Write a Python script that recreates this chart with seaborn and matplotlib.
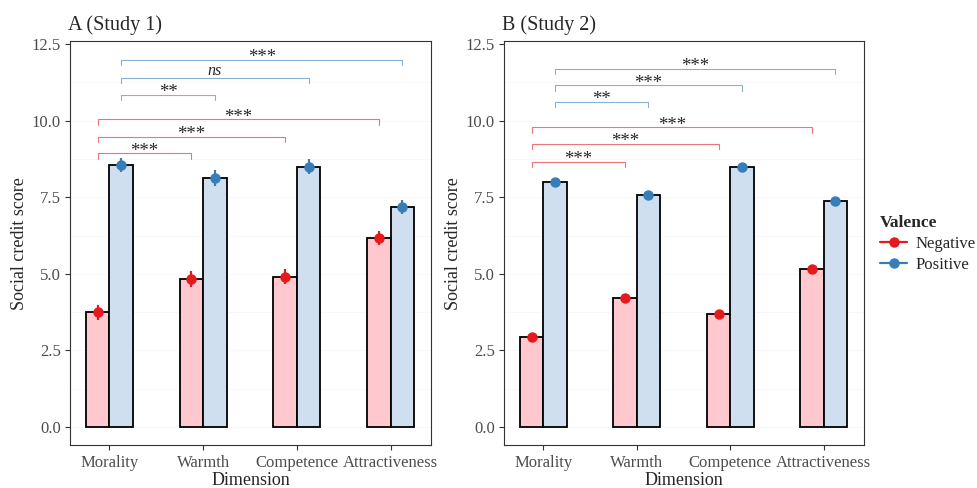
import matplotlib.pyplot as plt
import seaborn as sns
import pandas as pd
from matplotlib.lines import Line2D
from matplotlib.ticker import MultipleLocator

# Data
dimensions = ['Morality', 'Warmth', 'Competence', 'Attractiveness']
valences = ['Negative', 'Positive']
colors = {'Negative': '#E41A1C', 'Positive': '#377EB8'}
fills = {'Negative': '#FFC8CE', 'Positive': '#CFDFF0'}

# Study 1 means and standard errors
s1_negative = [3.74, 4.83, 4.91, 6.16]
s1_positive = [8.55, 8.12, 8.50, 7.19]
s1_negative_se = [0.24, 0.25, 0.25, 0.23]
s1_positive_se = [0.24, 0.26, 0.24, 0.22]

# Study 2 means and standard errors
s2_negative = [2.94, 4.22, 3.68, 5.16]
s2_positive = [8.00, 7.56, 8.48, 7.38]
s2_negative_se = [0.12, 0.12, 0.12, 0.12]
s2_positive_se = [0.11, 0.11, 0.11, 0.11]

# Comparisons: (valence, from, to, bracket height, label)
s1_brackets = [
    ('Negative', 'Morality', 'Warmth', 8.93, '***'),
    ('Negative', 'Morality', 'Competence', 9.47, '***'),
    ('Negative', 'Morality', 'Attractiveness', 10.04, '***'),
    ('Positive', 'Morality', 'Warmth', 10.83, '**'),
    ('Positive', 'Morality', 'Competence', 11.40, 'ns'),
    ('Positive', 'Morality', 'Attractiveness', 11.98, '***'),
]
s2_brackets = [
    ('Negative', 'Morality', 'Warmth', 8.66, '***'),
    ('Negative', 'Morality', 'Competence', 9.23, '***'),
    ('Negative', 'Morality', 'Attractiveness', 9.78, '***'),
    ('Positive', 'Morality', 'Warmth', 10.60, '**'),
    ('Positive', 'Morality', 'Competence', 11.15, '***'),
    ('Positive', 'Morality', 'Attractiveness', 11.69, '***'),
]


def make_df(neg, pos, neg_se, pos_se):
    return pd.DataFrame({
        'Dimension': dimensions * 2,
        'Valence': ['Negative'] * 4 + ['Positive'] * 4,
        'Score': neg + pos,
        'SE': neg_se + pos_se,
    })


sns.set_style('white')
plt.rcParams['font.family'] = ['Liberation Serif', 'DejaVu Serif']

fig = plt.figure(figsize=(9.77, 4.88), dpi=100)
ax1 = fig.add_axes([0.0717, 0.0871, 0.3694, 0.8289])
ax2 = fig.add_axes([0.5159, 0.0871, 0.3684, 0.8289])


def draw_panel(ax, df, brackets, title):
    ax.set_axisbelow(True)
    sns.barplot(data=df, x='Dimension', y='Score', hue='Valence',
                order=dimensions, hue_order=valences, palette=fills,
                width=0.5, errorbar=None, edgecolor='black', linewidth=1.3,
                saturation=1, legend=False, ax=ax)

    # bar centres taken from seaborn's dodged bars
    centres = {}
    for container, lvl in zip(ax.containers, valences):
        for bar, dim in zip(container, dimensions):
            centres[(lvl, dim)] = bar.get_x() + bar.get_width() / 2

    for lvl in valences:
        sub = df[df['Valence'] == lvl]
        xs = [centres[(lvl, d)] for d in sub['Dimension']]
        ax.errorbar(xs, sub['Score'], yerr=sub['SE'], fmt='o', color=colors[lvl],
                    ms=6.5, elinewidth=1.6, capsize=0, zorder=4)

    for lvl, a, b, h, lab in brackets:
        x0, x1 = centres[(lvl, a)], centres[(lvl, b)]
        ax.plot([x0, x0, x1, x1], [h - 0.17, h, h, h - 0.17],
                color=colors[lvl], alpha=0.6, lw=0.8, zorder=3)
        if lab == 'ns':
            ax.text((x0 + x1) / 2, h + 0.08, lab, ha='center', va='baseline',
                    fontsize=11.5, fontstyle='italic')
        else:
            ax.text((x0 + x1) / 2, h - 0.07, lab, ha='center', va='baseline',
                    fontsize=13.5)

    ax.set_ylim(-0.60, 12.60)
    ax.set_xlim(-0.42, 3.43)
    ax.yaxis.set_major_locator(MultipleLocator(2.5))
    ax.yaxis.set_minor_locator(MultipleLocator(1.25))
    ax.yaxis.set_major_formatter(lambda v, p: f'{v:.1f}')
    ax.grid(True, which='both', axis='y', color='#F6F6F6', lw=0.5)
    ax.tick_params(axis='both', which='major', length=3.5, width=0.8, color='#333333',
                   labelsize=12, labelcolor='#4D4D4D', pad=3, left=True, bottom=True)
    ax.tick_params(axis='y', which='minor', length=0)
    for sp in ax.spines.values():
        sp.set_color('#333333')
        sp.set_linewidth(0.8)
    ax.set_xlabel('Dimension', fontsize=13, labelpad=1)
    ax.set_ylabel('Social credit score', fontsize=13, labelpad=3)
    ax.set_title(title, loc='left', fontsize=14.5, pad=8, x=-0.005)


draw_panel(ax1, make_df(s1_negative, s1_positive, s1_negative_se, s1_positive_se),
           s1_brackets, 'A (Study 1)')
draw_panel(ax2, make_df(s2_negative, s2_positive, s2_negative_se, s2_positive_se),
           s2_brackets, 'B (Study 2)')

handles = [Line2D([0], [0], color=colors[v], marker='o', lw=1.6, ms=6.5) for v in valences]
leg = fig.legend(handles, valences, title='Valence', loc='center left',
                 bbox_to_anchor=(0.889, 0.5), frameon=False, fontsize=12,
                 title_fontproperties={'weight': 'bold', 'size': 12.5},
                 alignment='left', handlelength=1.6, handletextpad=0.5,
                 labelspacing=0.3, borderpad=0.2)

plt.savefig('out.png', dpi=100)
